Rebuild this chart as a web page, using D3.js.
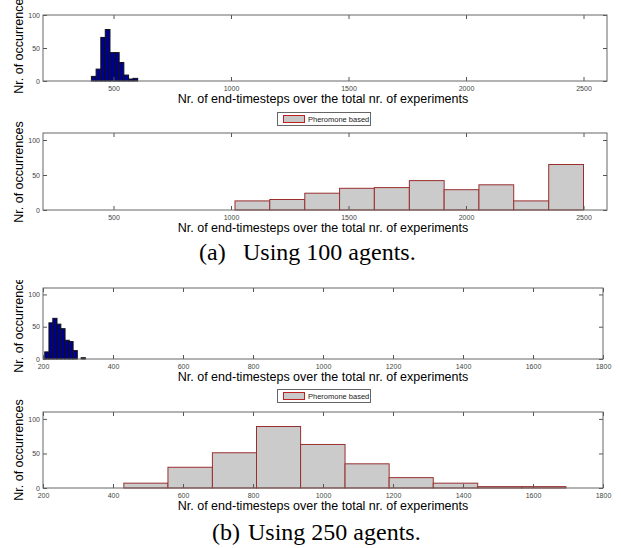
<!DOCTYPE html>
<html>
<head>
<meta charset="utf-8">
<script src="https://cdn.jsdelivr.net/npm/d3@7"></script>
<style>
  body { margin: 0; background: #fff; }
  svg { display: block; }
  .tick text { font-family: "Liberation Sans", Arial, sans-serif; font-size: 7px; fill: #444; }
  .tick line { stroke: #555; }
  .lbl { font-family: "Liberation Sans", Arial, sans-serif; font-size: 12.5px; fill: #000; }
  .cap { font-family: "Liberation Serif", "Times New Roman", serif; font-size: 24px; fill: #000; }
</style>
</head>
<body>
<div id="chart"></div>
<script>
// x ticks / y ticks
var xTicks100 = [500, 1000, 1500, 2000, 2500];
var xTicks250 = [200, 400, 600, 800, 1000, 1200, 1400, 1600, 1800];
var yTicks = [0, 50, 100];

// bin edges and counts
var edgesA1 = [406, 426, 446, 465, 485, 505, 524, 544, 564, 583, 603];
var countsA1 = [7, 18, 66, 78, 43, 43, 28, 9, 3, 4];

var edgesA2 = [1017, 1165, 1314, 1462, 1610, 1759, 1907, 2055, 2203, 2352, 2500];
var countsA2 = [13, 15, 24, 31, 32, 42, 29, 36, 13, 65];

var edgesB1 = [205, 217, 228, 240, 251, 263, 275, 286, 298, 309, 321];
var countsB1 = [11, 56, 63, 54, 47, 29, 27, 13, 0, 2];

var edgesB2 = [431, 557, 684, 810, 936, 1063, 1189, 1315, 1442, 1568, 1694];
var countsB2 = [7, 30, 51, 89, 63, 35, 15, 7, 2, 2];

var legendLabel = "Pheromone based";
var xLabel = "Nr. of end-timesteps over the total nr. of experiments";
var yLabel = "Nr. of occurrences";

var W = 621, H = 548;
var svg = d3.select("#chart").append("svg").attr("width", W).attr("height", H);

// the lower figure's y label is cropped at its top, as in the source image
svg.append("defs").append("clipPath").attr("id", "clipB1")
    .append("rect").attr("x", 0).attr("y", 280).attr("width", 60).attr("height", 120);

function drawPanel(cfg) {
    var x = d3.scaleLinear().domain(cfg.xDomain).range([cfg.left, cfg.right]),
        y = d3.scaleLinear().domain(cfg.yDomain).range([cfg.bottom, cfg.top]),
        g = svg.append("g");

    var bins = cfg.counts.map((c, i) => ({x0: cfg.edges[i], x1: cfg.edges[i + 1], n: c}));

    g.selectAll("rect.bar")
        .data(bins.filter(d => d.n > 0))
        .enter().append("rect")
        .attr("class", "bar")
        .attr("x", d => x(d.x0))
        .attr("y", d => y(d.n))
        .attr("width", d => x(d.x1) - x(d.x0))
        .attr("height", d => y(0) - y(d.n))
        .attr("fill", cfg.fill)
        .attr("stroke", cfg.stroke)
        .attr("stroke-width", 1);

    // inward ticks on all four sides, labels only bottom and left
    g.append("g").attr("transform", "translate(0," + cfg.bottom + ")")
        .call(d3.axisBottom(x).tickValues(cfg.xTicks).tickSize(-4).tickPadding(5).tickFormat(d3.format("d")));
    g.append("g").attr("transform", "translate(0," + cfg.top + ")")
        .call(d3.axisTop(x).tickValues(cfg.xTicks).tickSize(-4).tickFormat(""));
    g.append("g").attr("transform", "translate(" + cfg.left + ",0)")
        .call(d3.axisLeft(y).tickValues(yTicks).tickSize(-4).tickPadding(3));
    g.append("g").attr("transform", "translate(" + cfg.right + ",0)")
        .call(d3.axisRight(y).tickValues(yTicks).tickSize(-4).tickFormat(""));
    g.selectAll(".domain").remove();

    g.append("rect")
        .attr("x", cfg.left).attr("y", cfg.top)
        .attr("width", cfg.right - cfg.left).attr("height", cfg.bottom - cfg.top)
        .attr("fill", "none").attr("stroke", "#666").attr("stroke-width", 1);

    g.append("text").attr("class", "lbl")
        .attr("x", 323).attr("y", cfg.bottom + 22)
        .attr("text-anchor", "middle").text(xLabel);

    var yg = cfg.clip ? g.append("g").attr("clip-path", "url(#" + cfg.clip + ")") : g;
    yg.append("text").attr("class", "lbl")
        .attr("transform", "translate(23," + cfg.yLabelMid + ") rotate(-90)")
        .attr("text-anchor", "middle").text(yLabel);

    if (cfg.legend) {
        var lg = svg.append("g").attr("transform", "translate(" + cfg.legend[0] + "," + cfg.legend[1] + ")");
        lg.append("rect").attr("x", 0.5).attr("y", 0.5).attr("width", 93).attr("height", 13)
            .attr("fill", "#fff").attr("stroke", "#666");
        lg.append("rect").attr("x", 6.5).attr("y", 3.5).attr("width", 21).attr("height", 7)
            .attr("fill", "#c8c8c8").attr("stroke", "#c02020");
        lg.append("text").attr("x", 31).attr("y", 10)
            .attr("font-family", "Liberation Sans, Arial, sans-serif")
            .attr("font-size", "7.5px").attr("fill", "#222").text(legendLabel);
    }
}

drawPanel({ edges: edgesA1, counts: countsA1, xDomain: [200, 2600], yDomain: [0, 100],
    xTicks: xTicks100, left: 43, right: 607, top: 15, bottom: 81, yLabelMid: 43,
    fill: "#00008f", stroke: "#111" });
drawPanel({ edges: edgesA2, counts: countsA2, xDomain: [200, 2600], yDomain: [0, 110],
    xTicks: xTicks100, left: 43, right: 607, top: 133, bottom: 210, yLabelMid: 172,
    fill: "#cbcbcb", stroke: "#9b2f2f", legend: [277, 112] });
drawPanel({ edges: edgesB1, counts: countsB1, xDomain: [200, 1800], yDomain: [0, 110],
    xTicks: xTicks250, left: 43, right: 603, top: 288, bottom: 359, yLabelMid: 322,
    fill: "#00008f", stroke: "#111", clip: "clipB1" });
drawPanel({ edges: edgesB2, counts: countsB2, xDomain: [200, 1800], yDomain: [0, 110],
    xTicks: xTicks250, left: 43, right: 603, top: 412, bottom: 488, yLabelMid: 450,
    fill: "#cbcbcb", stroke: "#9b2f2f", legend: [277, 389] });

// captions: subfigure tag and text placed separately, as LaTeX sets them
svg.append("text").attr("class", "cap").attr("x", 199).attr("y", 260).text("(a)");
svg.append("text").attr("class", "cap").attr("x", 243).attr("y", 260).text("Using 100 agents.");
svg.append("text").attr("class", "cap").attr("x", 212).attr("y", 540).text("(b)");
svg.append("text").attr("class", "cap").attr("x", 248).attr("y", 540).text("Using 250 agents.");
</script>
</body>
</html>
